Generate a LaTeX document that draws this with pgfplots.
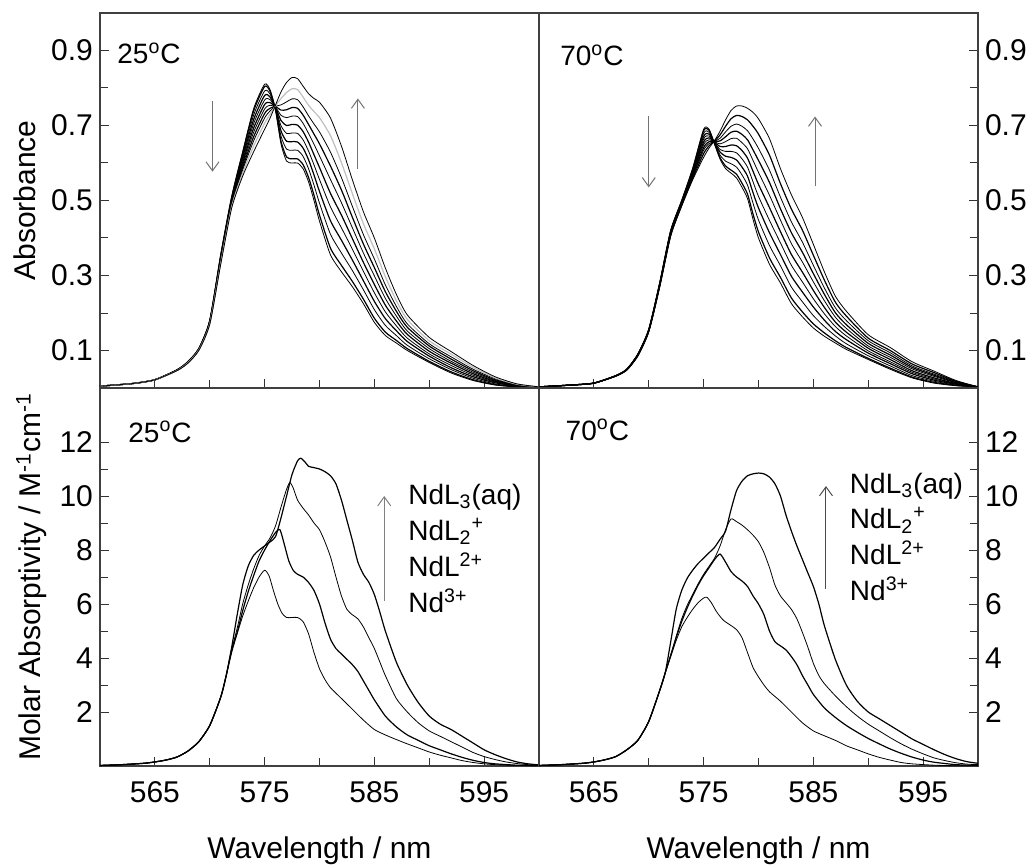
\documentclass[border=0pt]{standalone}
\usepackage{fontspec}
\setmainfont{Liberation Sans}
\usepackage{pgfplots}
\pgfplotsset{compat=1.18}
\usepackage{pgfplotstable}
\usetikzlibrary{arrows.meta}

% absorbance spectra, 25 C (a0 = first, a10 = last of the titration)
\pgfplotstableread{
wl a0 a1 a2 a3 a4 a5 a6 a7 a8 a9 a10
560 0.005 0.005 0.005 0.005 0.005 0.005 0.005 0.005 0.005 0.005 0.005
563 0.012 0.012 0.012 0.012 0.012 0.012 0.012 0.012 0.012 0.012 0.012
565 0.022 0.022 0.022 0.022 0.022 0.022 0.022 0.022 0.022 0.022 0.022
567 0.048 0.048 0.048 0.048 0.047 0.047 0.047 0.047 0.047 0.046 0.046
568 0.070 0.070 0.069 0.069 0.069 0.068 0.068 0.067 0.067 0.067 0.066
569 0.105 0.105 0.104 0.104 0.103 0.103 0.102 0.102 0.101 0.101 0.100
570 0.180 0.180 0.179 0.178 0.177 0.176 0.175 0.174 0.173 0.171 0.170
571 0.355 0.354 0.351 0.349 0.346 0.344 0.341 0.339 0.336 0.333 0.330
572 0.510 0.509 0.506 0.503 0.500 0.497 0.494 0.491 0.488 0.484 0.480
573 0.630 0.627 0.620 0.614 0.607 0.601 0.594 0.588 0.581 0.573 0.565
574 0.745 0.739 0.728 0.716 0.705 0.693 0.682 0.670 0.659 0.645 0.630
575 0.810 0.804 0.792 0.780 0.768 0.756 0.744 0.732 0.720 0.706 0.690
575.5 0.795 0.791 0.784 0.776 0.769 0.761 0.754 0.746 0.739 0.730 0.720
576 0.740 0.741 0.742 0.744 0.745 0.747 0.748 0.750 0.751 0.753 0.755
576.5 0.650 0.657 0.671 0.685 0.699 0.713 0.727 0.741 0.755 0.772 0.790
577 0.605 0.616 0.637 0.658 0.679 0.700 0.721 0.742 0.763 0.788 0.815
577.5 0.600 0.611 0.634 0.657 0.680 0.703 0.725 0.748 0.771 0.798 0.828
578 0.600 0.611 0.634 0.656 0.679 0.701 0.724 0.746 0.769 0.796 0.825
578.5 0.585 0.596 0.618 0.640 0.662 0.684 0.706 0.728 0.750 0.776 0.805
579 0.550 0.562 0.585 0.609 0.632 0.656 0.679 0.703 0.726 0.754 0.785
579.5 0.500 0.514 0.541 0.568 0.595 0.622 0.650 0.677 0.704 0.737 0.772
580 0.445 0.461 0.493 0.524 0.556 0.588 0.619 0.651 0.683 0.721 0.762
581 0.355 0.373 0.410 0.446 0.483 0.519 0.556 0.592 0.629 0.673 0.720
582 0.310 0.327 0.360 0.394 0.427 0.461 0.494 0.528 0.561 0.601 0.645
583 0.270 0.284 0.313 0.341 0.370 0.398 0.427 0.455 0.484 0.518 0.555
584 0.225 0.237 0.262 0.286 0.311 0.335 0.360 0.384 0.409 0.438 0.470
585 0.175 0.186 0.209 0.231 0.254 0.276 0.299 0.321 0.344 0.371 0.400
586 0.140 0.149 0.167 0.185 0.203 0.221 0.239 0.257 0.275 0.297 0.320
587 0.120 0.127 0.140 0.153 0.166 0.179 0.192 0.205 0.218 0.233 0.250
588 0.100 0.105 0.114 0.124 0.133 0.143 0.152 0.162 0.171 0.183 0.195
590 0.068 0.071 0.078 0.085 0.091 0.098 0.105 0.112 0.118 0.126 0.135
592 0.040 0.043 0.049 0.054 0.060 0.066 0.071 0.077 0.083 0.090 0.097
594 0.020 0.022 0.026 0.030 0.034 0.038 0.042 0.046 0.050 0.055 0.060
596 0.008 0.009 0.011 0.014 0.016 0.018 0.020 0.022 0.025 0.027 0.030
598 0.003 0.003 0.004 0.005 0.006 0.007 0.007 0.008 0.009 0.010 0.011
600 0.001 0.001 0.001 0.002 0.002 0.002 0.002 0.002 0.003 0.003 0.003
}\absA

% absorbance spectra, 70 C
\pgfplotstableread{
wl a0 a1 a2 a3 a4 a5 a6 a7 a8 a9 a10
560 0.003 0.003 0.003 0.003 0.003 0.003 0.003 0.003 0.003 0.003 0.003
563 0.008 0.008 0.008 0.008 0.008 0.008 0.008 0.008 0.008 0.008 0.008
565 0.013 0.013 0.013 0.013 0.013 0.013 0.013 0.013 0.013 0.013 0.013
567 0.033 0.033 0.033 0.033 0.033 0.032 0.032 0.032 0.032 0.032 0.032
568 0.050 0.050 0.050 0.050 0.049 0.049 0.049 0.049 0.049 0.048 0.048
569 0.090 0.090 0.089 0.089 0.088 0.088 0.087 0.087 0.086 0.086 0.085
570 0.156 0.156 0.155 0.155 0.154 0.153 0.153 0.152 0.152 0.151 0.150
571 0.280 0.280 0.279 0.278 0.277 0.276 0.275 0.274 0.273 0.271 0.270
572 0.420 0.419 0.418 0.416 0.415 0.413 0.412 0.410 0.409 0.407 0.405
573 0.500 0.499 0.498 0.496 0.495 0.493 0.492 0.490 0.489 0.487 0.485
574 0.585 0.584 0.581 0.578 0.575 0.572 0.569 0.566 0.563 0.559 0.555
575 0.690 0.686 0.679 0.671 0.664 0.656 0.649 0.641 0.634 0.625 0.615
575.5 0.690 0.687 0.682 0.677 0.672 0.667 0.662 0.657 0.652 0.646 0.640
576 0.650 0.651 0.652 0.653 0.654 0.655 0.656 0.657 0.658 0.659 0.660
576.5 0.610 0.614 0.621 0.629 0.636 0.644 0.651 0.659 0.666 0.675 0.685
577 0.585 0.592 0.605 0.618 0.631 0.644 0.657 0.670 0.683 0.698 0.715
577.5 0.573 0.581 0.598 0.615 0.631 0.648 0.665 0.682 0.698 0.718 0.740
578 0.560 0.570 0.589 0.608 0.627 0.646 0.666 0.685 0.704 0.727 0.752
578.5 0.535 0.546 0.568 0.589 0.611 0.633 0.654 0.676 0.698 0.724 0.752
579 0.505 0.517 0.541 0.565 0.589 0.613 0.638 0.662 0.686 0.715 0.746
579.5 0.450 0.464 0.493 0.521 0.550 0.578 0.607 0.635 0.664 0.698 0.735
580 0.400 0.416 0.448 0.480 0.511 0.543 0.575 0.607 0.639 0.677 0.718
581 0.330 0.347 0.380 0.414 0.447 0.481 0.514 0.548 0.581 0.621 0.665
582 0.280 0.295 0.326 0.356 0.387 0.417 0.448 0.478 0.509 0.545 0.585
583 0.225 0.240 0.269 0.298 0.327 0.356 0.385 0.414 0.443 0.477 0.515
584 0.190 0.203 0.230 0.256 0.283 0.309 0.336 0.362 0.389 0.421 0.455
585 0.160 0.171 0.193 0.216 0.238 0.260 0.283 0.305 0.327 0.354 0.383
586 0.138 0.147 0.164 0.181 0.198 0.215 0.233 0.250 0.267 0.288 0.310
587 0.120 0.126 0.139 0.151 0.164 0.176 0.189 0.201 0.214 0.229 0.245
588 0.103 0.108 0.118 0.129 0.139 0.149 0.159 0.169 0.180 0.192 0.205
590 0.076 0.079 0.086 0.093 0.099 0.106 0.112 0.119 0.126 0.133 0.142
592 0.050 0.053 0.059 0.065 0.070 0.076 0.082 0.088 0.094 0.100 0.108
594 0.027 0.029 0.033 0.038 0.042 0.046 0.051 0.055 0.059 0.064 0.070
596 0.013 0.015 0.018 0.021 0.024 0.027 0.031 0.034 0.037 0.041 0.045
598 0.006 0.007 0.008 0.010 0.011 0.012 0.014 0.015 0.017 0.018 0.020
600 0.003 0.003 0.003 0.003 0.003 0.003 0.003 0.003 0.003 0.003 0.003
}\absB

\tikzset{
  note/.style={anchor=base west, inner sep=0pt, font=\fontsize{14}{17}\selectfont},
  trend/.style={line width=0.5pt, -{Straight Barb[length=4.5pt,width=6.5pt]}},
}

\pgfplotsset{
  panel/.style={
    scale only axis, width=219.5pt,
    xmin=560, xmax=600,
    xtick={565,575,585,595}, minor xtick={570,580,590},
    xtick pos=left,
    tick align=inside,
    major tick length=4.5pt, minor tick length=4pt,
    tick style={black!80, line width=0.5pt},
    axis line style={black!75, line width=0.6pt},
    tick label style={font=\fontsize{15}{18}\selectfont},
    label style={font=\fontsize{15}{18}\selectfont},
    /pgf/number format/assume math mode=true,
    xticklabel style={anchor=base, yshift=-18pt},
    cycle list={{black, line width=0.6pt}},
    no markers,
    every axis plot/.append style={smooth, tension=0.4},
  },
  absy/.style={
    height=187.5pt, ymin=0, ymax=1,
    ytick={0.1,0.3,0.5,0.7,0.9}, minor ytick={0.2,0.4,0.6,0.8},
    yticklabel style={/pgf/number format/.cd, fixed, fixed zerofill, precision=1},
    xticklabels={},
  },
  epsy/.style={
    height=189pt, ymin=0, ymax=14,
    ytick={2,4,6,8,10,12}, minor ytick={3,5,7,9,11},
    xlabel={Wavelength / nm},
    xlabel style={at={(axis description cs:0.5,-0.2434)}, anchor=base},
  },
}

\begin{document}
\begin{tikzpicture}
\useasboundingbox (0,0) rectangle (515pt,432pt);

% top left: absorbance, 25 C
\begin{axis}[panel, absy, at={(50pt,238pt)}, ytick pos=left,
  ylabel={Absorbance},
  ylabel style={at={(axis description cs:-0.1458,0.5)}, anchor=base}]
\pgfplotsinvokeforeach{0,...,8}{\addplot table[x=wl, y=a#1]{\absA};}
\addplot[gray!50, line width=0.6pt] table[x=wl, y=a9]{\absA};
\addplot table[x=wl, y=a10]{\absA};
\node[note] at (axis cs:561.55,0.865) {25\textsuperscript{o}C};
\draw[black!55, trend] (axis cs:570.25,0.765) -- (axis cs:570.25,0.577);
\draw[black!55, trend] (axis cs:583.5,0.584) -- (axis cs:583.5,0.772);
\end{axis}

% top right: absorbance, 70 C
\begin{axis}[panel, absy, at={(269.5pt,238pt)}, ytick pos=right, yticklabel pos=right]
\pgfplotsinvokeforeach{0,...,10}{\addplot table[x=wl, y=a#1]{\absB};}
\node[note] at (axis cs:561.9,0.859) {70\textsuperscript{o}C};
\draw[black!55, trend] (axis cs:570.0,0.724) -- (axis cs:570.0,0.535);
\draw[black!55, trend] (axis cs:585.15,0.538) -- (axis cs:585.15,0.724);
\end{axis}

% bottom left: species spectra, 25 C
\begin{axis}[panel, epsy, at={(50pt,49pt)}, ytick pos=left,
  ylabel={Molar Absorptivity / M\textsuperscript{-1}cm\textsuperscript{-1}},
  ylabel style={at={(axis description cs:-0.1344,0.5)}, anchor=base}]
% Nd3+
\addplot coordinates {(560,0.02)(562,0.05)(564,0.1)(565,0.15)(566,0.22)(567,0.33)(568,0.55)(569,0.9)(570,1.5)(571,2.55)(571.5,3.35)(572,4.2)(572.5,4.9)(573,5.55)(573.5,6.1)(574,6.6)(574.5,7.0)(575,7.25)(575.4,7.05)(575.8,6.5)(576.2,6.0)(576.6,5.65)(577,5.5)(577.5,5.5)(578,5.5)(578.5,5.35)(579,4.9)(579.5,4.2)(580,3.6)(580.5,3.2)(581,2.9)(582,2.5)(583,2.1)(584,1.7)(585,1.35)(586,1.15)(587,0.98)(588,0.82)(589,0.67)(590,0.52)(591,0.4)(592,0.3)(593,0.2)(594,0.13)(595,0.08)(596,0.05)(598,0.02)(600,0.01)};
% NdL2+
\addplot coordinates {(560,0.02)(562,0.05)(564,0.1)(565,0.15)(566,0.22)(567,0.33)(568,0.55)(569,0.9)(570,1.5)(571,2.55)(571.5,3.35)(572,4.3)(572.5,4.95)(573,5.75)(573.5,6.45)(574,7.05)(574.5,7.6)(575,8.0)(575.5,8.35)(576,8.65)(576.4,8.75)(576.8,8.2)(577.2,7.6)(577.6,7.25)(578,7.1)(578.5,7.0)(579,6.8)(579.5,6.5)(580,6.0)(580.5,5.3)(581,4.7)(581.5,4.35)(582,4.15)(582.5,3.95)(583,3.75)(583.5,3.5)(584,3.15)(584.5,2.8)(585,2.45)(586,1.85)(587,1.45)(588,1.15)(589,0.95)(590,0.75)(591,0.6)(592,0.45)(593,0.32)(594,0.21)(595,0.13)(596,0.08)(598,0.03)(600,0.02)};
% NdL2 +
\addplot coordinates {(560,0.02)(562,0.05)(564,0.1)(565,0.15)(566,0.22)(567,0.33)(568,0.55)(569,0.9)(570,1.5)(571,2.55)(571.5,3.35)(572,4.3)(572.5,5.1)(573,6.0)(573.5,6.7)(574,7.3)(574.5,7.8)(575,8.15)(575.5,8.45)(576,8.9)(576.5,9.6)(577,10.25)(577.3,10.5)(577.6,10.3)(578,9.85)(578.5,9.55)(579,9.3)(579.5,9.0)(580,8.75)(580.5,8.3)(581,7.75)(581.5,7.0)(582,6.3)(582.5,5.8)(583,5.6)(583.5,5.45)(584,5.15)(584.5,4.75)(585,4.35)(585.5,3.85)(586,3.35)(587,2.5)(588,2.0)(589,1.6)(590,1.3)(591,1.1)(592,0.9)(593,0.7)(594,0.5)(595,0.35)(596,0.24)(597,0.15)(598,0.09)(599,0.05)(600,0.03)};
% NdL3(aq)
\addplot coordinates {(560,0.02)(562,0.05)(564,0.1)(565,0.15)(566,0.22)(567,0.33)(568,0.55)(569,0.9)(570,1.5)(571,2.55)(571.5,3.35)(572,4.4)(572.5,5.6)(573,6.7)(573.5,7.4)(574,7.8)(574.5,8.0)(575,8.15)(575.5,8.3)(576,8.5)(576.5,9.2)(577,10.0)(577.5,10.8)(578,11.3)(578.3,11.4)(578.7,11.25)(579,11.1)(579.5,11.05)(580,11.0)(580.5,10.9)(581,10.75)(581.5,10.45)(582,9.85)(582.5,9.1)(583,8.35)(583.5,7.55)(584,7.1)(584.5,6.8)(585,6.35)(585.5,5.7)(586,5.0)(587,3.85)(588,3.0)(589,2.35)(590,1.85)(591,1.55)(592,1.35)(593,1.1)(594,0.85)(595,0.6)(596,0.42)(597,0.27)(598,0.15)(599,0.08)(600,0.04)};
\node[note] at (axis cs:562.55,12.0) {25\textsuperscript{o}C};
\node[note] at (axis cs:588.06,9.70) {NdL\textsubscript{3}(aq)};
\node[note] at (axis cs:588.06,8.36) {NdL\textsubscript{2}\textsuperscript{+}};
\node[note] at (axis cs:588.06,7.02) {NdL\textsuperscript{2+}};
\node[note] at (axis cs:588.06,5.68) {Nd\textsuperscript{3+}};
\draw[black!50, trend] (axis cs:585.9,6.11) -- (axis cs:585.9,10.0);
\end{axis}

% bottom right: species spectra, 70 C
\begin{axis}[panel, epsy, at={(269.5pt,49pt)}, ytick pos=right, yticklabel pos=right]
\addplot coordinates {(560,0.02)(562,0.05)(564,0.1)(565,0.15)(566,0.23)(567,0.35)(568,0.6)(569,0.95)(570,1.65)(571,2.8)(571.5,3.45)(572,4.05)(572.5,4.65)(573,5.15)(573.5,5.5)(574,5.8)(574.5,6.05)(575,6.22)(575.3,6.25)(575.7,6.05)(576.2,5.7)(576.8,5.4)(577.5,5.2)(578,5.05)(578.5,4.75)(579,4.2)(579.5,3.65)(580,3.3)(580.5,3.0)(581,2.75)(582,2.4)(583,2.0)(584,1.6)(585,1.3)(586,1.12)(587,0.95)(588,0.75)(589,0.6)(590,0.45)(591,0.32)(592,0.22)(593,0.13)(594,0.08)(596,0.03)(598,0.01)(600,0.01)};
\addplot coordinates {(560,0.02)(562,0.05)(564,0.1)(565,0.15)(566,0.23)(567,0.35)(568,0.6)(569,0.95)(570,1.65)(571,2.8)(571.5,3.45)(572,4.1)(572.5,4.75)(573,5.35)(573.5,5.85)(574,6.3)(574.5,6.7)(575,7.05)(575.5,7.35)(576,7.65)(576.5,7.85)(577,7.55)(577.5,7.2)(578,7.0)(578.5,6.85)(579,6.65)(579.5,6.3)(580,6.0)(580.5,5.6)(581,5.0)(581.5,4.6)(582,4.45)(582.5,4.3)(583,4.05)(583.5,3.75)(584,3.35)(584.5,3.0)(585,2.65)(586,2.15)(587,1.8)(588,1.5)(589,1.25)(590,1.02)(591,0.82)(592,0.63)(593,0.47)(594,0.33)(595,0.22)(596,0.14)(598,0.05)(600,0.02)};
\addplot coordinates {(560,0.02)(562,0.05)(564,0.1)(565,0.15)(566,0.23)(567,0.35)(568,0.6)(569,0.95)(570,1.65)(571,2.8)(571.5,3.45)(572,4.1)(572.5,4.8)(573,5.45)(573.5,5.95)(574,6.35)(574.5,6.75)(575,7.1)(575.5,7.4)(576,7.7)(576.5,8.15)(577,8.75)(577.5,9.15)(578,9.05)(578.5,8.92)(579,8.75)(579.5,8.55)(580,8.3)(580.5,7.9)(581,7.35)(581.5,6.7)(582,6.3)(582.5,6.05)(583,5.8)(583.5,5.45)(584,4.95)(584.5,4.4)(585,3.8)(585.5,3.35)(586,3.05)(587,2.6)(588,2.2)(589,1.85)(590,1.55)(591,1.3)(592,1.05)(593,0.82)(594,0.62)(595,0.45)(596,0.3)(597,0.2)(598,0.12)(599,0.07)(600,0.05)};
\addplot coordinates {(560,0.02)(562,0.05)(564,0.1)(565,0.15)(566,0.23)(567,0.35)(568,0.6)(569,0.95)(570,1.65)(571,2.8)(571.5,3.45)(572,4.6)(572.5,5.8)(573,6.5)(573.5,6.95)(574,7.25)(574.5,7.5)(575,7.7)(575.5,7.9)(576,8.1)(576.5,8.4)(577,8.7)(577.5,9.5)(578,10.2)(578.5,10.55)(579,10.75)(579.5,10.82)(580,10.85)(580.5,10.82)(581,10.7)(581.5,10.45)(582,10.0)(582.5,9.3)(583,8.7)(583.5,8.15)(584,7.65)(584.5,7.15)(585,6.65)(585.5,6.0)(586,5.2)(587,3.95)(588,3.0)(589,2.4)(590,2.0)(591,1.75)(592,1.5)(593,1.25)(594,1.0)(595,0.8)(596,0.6)(597,0.42)(598,0.27)(599,0.16)(600,0.1)};
\node[note] at (axis cs:562.4,12.07) {70\textsuperscript{o}C};
\node[note] at (axis cs:588.3,10.11) {NdL\textsubscript{3}(aq)};
\node[note] at (axis cs:588.3,8.78) {NdL\textsubscript{2}\textsuperscript{+}};
\node[note] at (axis cs:588.3,7.45) {NdL\textsuperscript{2+}};
\node[note] at (axis cs:588.3,6.12) {Nd\textsuperscript{3+}};
\draw[black!70, trend] (axis cs:586.15,6.56) -- (axis cs:586.15,10.37);
\end{axis}
\end{tikzpicture}
\end{document}
